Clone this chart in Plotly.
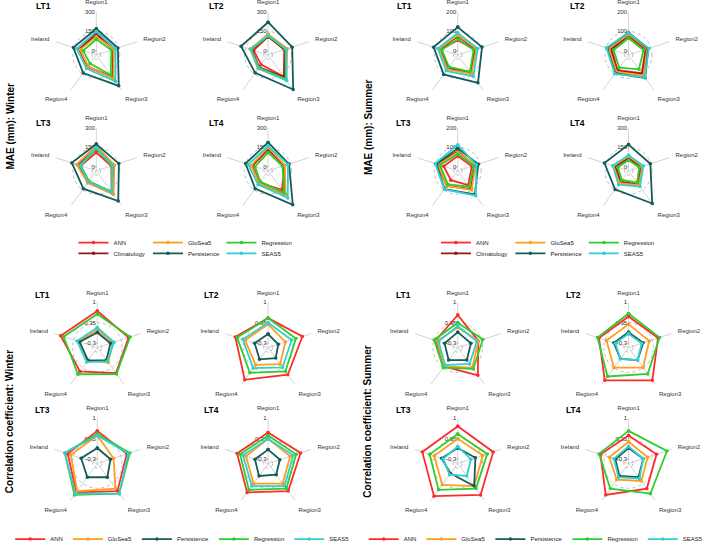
import plotly.graph_objects as go

W, H = 709, 554
FONT = "Liberation Sans, Arial, sans-serif"

regions = ["Region1", "Region2", "Region3", "Region4", "Ireland"]
lead_times = ["LT1", "LT2", "LT3", "LT4"]

# ---------------- MAE (mm): Winter  (per model: LT1..LT4, values Region1..Ireland)
mae_winter_ann = [[135, 110, 180, 80, 110], [110, 100, 175, 60, 85], [110, 90, 170, 70, 95], [130, 100, 150, 80, 95]]
mae_winter_clim = [[130, 105, 185, 78, 105], [110, 105, 180, 85, 100], [140, 110, 190, 80, 120], [140, 100, 195, 85, 100]]
mae_winter_glosea5 = [[110, 110, 195, 75, 100], [130, 125, 205, 100, 115], [165, 115, 195, 83, 128], [150, 105, 197, 85, 105]]
mae_winter_pers = [[172, 144, 265, 141, 155], [223, 165, 300, 139, 189], [176, 152, 258, 139, 168], [189, 139, 295, 139, 152]]
mae_winter_regr = [[90, 90, 160, 50, 75], [115, 110, 200, 90, 105], [140, 95, 170, 65, 95], [110, 85, 180, 70, 75]]
mae_winter_seas5 = [[150, 125, 221, 97, 128], [120, 115, 215, 95, 110], [150, 100, 175, 70, 100], [160, 130, 228, 100, 130]]

# ---------------- MAE (mm): Summer
mae_summer_ann = [[55, 70, 90, 60, 70], [75, 70, 95, 75, 70], [55, 55, 70, 38, 55], [65, 65, 95, 70, 70]]
mae_summer_clim = [[75, 75, 95, 65, 75], [80, 75, 100, 80, 75], [80, 70, 95, 75, 90], [70, 75, 100, 75, 80]]
mae_summer_glosea5 = [[80, 80, 100, 70, 80], [85, 80, 110, 85, 85], [75, 75, 101, 75, 85], [80, 80, 105, 85, 90]]
mae_summer_pers = [[123, 111, 157, 103, 110], [95, 85, 125, 95, 95], [95, 90, 130, 95, 95], [172, 146, 282, 146, 165]]
mae_summer_regr = [[60, 65, 85, 55, 65], [65, 60, 70, 60, 60], [65, 65, 80, 65, 75], [50, 55, 80, 55, 55]]
mae_summer_seas5 = [[92, 87, 116, 80, 87], [94, 89, 122, 99, 99], [113, 80, 138, 97, 101], [89, 89, 118, 100, 97]]

# ---------------- Correlation coefficient: Winter
cor_winter_ann = [[0.73, 0.61, 0.57, 0.50, 0.79], [0.50, 0.71, 0.63, 0.83, 0.66], [0.60, 0.55, 0.65, 0.70, 0.55], [0.55, 0.65, 0.65, 0.70, 0.60]]
cor_winter_glosea5 = [[0.12, 0.08, 0.15, 0.05, 0.18], [0.30, 0.14, 0.21, 0.24, 0.33], [0.45, 0.10, 0.55, 0.65, 0.45], [0.35, 0.30, 0.35, 0.35, 0.30]]
cor_winter_pers = [[0.04, 0.00, 0.05, 0.07, 0.15], [-0.01, -0.10, -0.03, 0.02, 0.01], [0.05, 0.00, 0.10, 0.10, 0.10], [0.00, -0.05, 0.00, 0.05, 0.00]]
cor_winter_regr = [[0.63, 0.66, 0.60, 0.61, 0.69], [0.50, 0.49, 0.50, 0.55, 0.60], [0.50, 0.65, 0.75, 0.80, 0.65], [0.45, 0.50, 0.55, 0.60, 0.50]]
cor_winter_seas5 = [[0.20, 0.12, 0.10, 0.13, 0.24], [0.35, 0.35, 0.34, 0.37, 0.41], [0.45, 0.60, 0.75, 0.75, 0.65], [0.35, 0.40, 0.45, 0.45, 0.40]]

# ---------------- Correlation coefficient: Summer
cor_summer_ann = [[0.60, 0.25, 0.65, 0.30, 0.30], [0.55, 0.55, 0.85, 0.85, 0.55], [0.75, 0.75, 0.80, 0.85, 0.75], [0.45, 0.50, 0.55, 0.80, 0.50]]
cor_summer_glosea5 = [[0.20, 0.25, 0.35, 0.30, 0.25], [0.30, 0.25, 0.35, 0.35, 0.30], [0.35, 0.40, 0.45, 0.40, 0.35], [0.25, 0.20, 0.25, 0.20, 0.20]]
cor_summer_pers = [[0.05, 0.00, 0.05, 0.05, 0.00], [0.05, 0.05, 0.05, 0.00, 0.05], [0.05, 0.15, 0.45, -0.05, 0.10], [0.05, 0.05, 0.10, 0.05, 0.00]]
cor_summer_regr = [[0.35, 0.40, 0.40, 0.35, 0.35], [0.65, 0.60, 0.60, 0.70, 0.60], [0.50, 0.55, 0.55, 0.60, 0.50], [0.60, 0.85, 0.75, 0.55, 0.55]]
cor_summer_seas5 = [[0.25, 0.20, 0.20, 0.25, 0.20], [0.00, 0.00, 0.05, 0.00, 0.00], [0.10, 0.00, 0.05, 0.00, 0.05], [0.10, 0.05, 0.15, 0.10, 0.05]]

# grid labels (min, mid, max) per lead time
mae_winter_grid = [(0, 150, 300), (0, 150, 300), (0, 150, 300), (0, 150, 300)]
mae_summer_grid = [(0, 100, 200), (0, 100, 200), (0, 100, 200), (0, 150, 300)]
cor_grid = [(-0.3, 0.35, 1), (-0.3, 0.35, 1), (-0.3, 0.35, 1), (-0.3, 0.35, 1)]

colors = {
    "ANN": "#FF2B2B",
    "Climatology": "#8E1B1B",
    "GloSea5": "#FF9D1E",
    "Persistence": "#175A5A",
    "Regression": "#2ECC2E",
    "SEAS5": "#33CFCF",
}

panels = [
    dict(title="MAE (mm): Winter", title_xy=(11, 128),
         series={"ANN": mae_winter_ann, "Climatology": mae_winter_clim, "GloSea5": mae_winter_glosea5,
                 "Persistence": mae_winter_pers, "Regression": mae_winter_regr, "SEAS5": mae_winter_seas5},
         grid=mae_winter_grid, R=43.5,
         centers=[(97, 56), (270, 56), (97, 174), (270, 174)],
         lt_xy=[(44, 6), (218, 6), (44, 125), (218, 125)],
         item_legends=[("ANN", 74, 247), ("GloSea5", 149, 247), ("Regression", 223, 247),
                       ("Climatology", 74, 258), ("Persistence", 149, 258), ("SEAS5", 223, 258)]),
    dict(title="MAE (mm): Summer", title_xy=(371, 129),
         series={"ANN": mae_summer_ann, "Climatology": mae_summer_clim, "GloSea5": mae_summer_glosea5,
                 "Persistence": mae_summer_pers, "Regression": mae_summer_regr, "SEAS5": mae_summer_seas5},
         grid=mae_summer_grid, R=43.5,
         centers=[(461, 56), (633, 56), (461, 174), (633, 174)],
         lt_xy=[(407, 6), (582, 6), (406, 125), (582, 125)],
         item_legends=[("ANN", 439, 247), ("GloSea5", 514, 247), ("Regression", 588, 247),
                       ("Climatology", 439, 258), ("Persistence", 514, 258), ("SEAS5", 588, 258)]),
    dict(title="Correlation coefficient: Winter", title_xy=(9, 429),
         series={"ANN": cor_winter_ann, "GloSea5": cor_winter_glosea5, "Persistence": cor_winter_pers,
                 "Regression": cor_winter_regr, "SEAS5": cor_winter_seas5},
         grid=cor_grid, R=46,
         centers=[(98, 354), (270, 354), (98, 472), (270, 472)],
         lt_xy=[(43, 300), (213, 300), (43, 418), (213, 418)],
         row_legend=(184, 549)),
    dict(title="Correlation coefficient: Summer", title_xy=(370, 429),
         series={"ANN": cor_summer_ann, "GloSea5": cor_summer_glosea5, "Persistence": cor_summer_pers,
                 "Regression": cor_summer_regr, "SEAS5": cor_summer_seas5},
         grid=cor_grid, R=46,
         centers=[(461, 354), (633, 354), (461, 472), (633, 472)],
         lt_xy=[(406, 300), (578, 300), (406, 418), (578, 418)],
         row_legend=(540, 549)),
]


def fmt(v):
    return ("%g" % v)


def legend_box(x, y, xanchor):
    return dict(x=x / W, y=1 - y / H, xanchor=xanchor, yanchor="middle",
                orientation="h", font=dict(size=6, family=FONT, color="#222"),
                bgcolor="rgba(0,0,0,0)", borderwidth=0, itemwidth=30,
                tracegroupgap=0, itemclick=False, itemdoubleclick=False)


fig = go.Figure()
annotations = []
layout_extra = {}
k = 0
nleg = 0
for p in panels:
    legend_of = {}
    if "item_legends" in p:
        for model, lx, ly in p["item_legends"]:
            nleg += 1
            lname = "legend" if nleg == 1 else "legend%d" % nleg
            legend_of[model] = lname
            layout_extra[lname] = legend_box(lx, ly, "left")
    else:
        nleg += 1
        lname = "legend" if nleg == 1 else "legend%d" % nleg
        for model in p["series"]:
            legend_of[model] = lname
        layout_extra[lname] = legend_box(p["row_legend"][0], p["row_legend"][1], "center")
    for i, lt in enumerate(lead_times):
        k += 1
        name = "polar" if k == 1 else "polar%d" % k
        cx, cy = p["centers"][i]
        R = p["R"]
        lo, mid, hi = p["grid"][i]
        rmin = lo - (hi - lo) / 9.0
        layout_extra[name] = dict(
            domain=dict(x=[(cx - R) / W, (cx + R) / W], y=[1 - (cy + R) / H, 1 - (cy - R) / H]),
            bgcolor="white",
            radialaxis=dict(range=[rmin, hi + (hi - lo) * 0.002], tickvals=[lo, mid, hi],
                            ticktext=[fmt(lo), fmt(mid), fmt(hi)], showline=False, ticks="",
                            angle=90, side="counterclockwise", tickangle=90,
                            tickfont=dict(size=6, family=FONT, color="#333"),
                            gridcolor="#BBBBBB", griddash="dot", gridwidth=0.8, layer="below traces"),
            angularaxis=dict(type="category", categoryarray=regions, direction="clockwise", rotation=90,
                             showline=False, ticks="outside", ticklen=5, tickcolor="rgba(0,0,0,0)",
                             gridcolor="#D3D3D3", gridwidth=1,
                             tickfont=dict(size=6, family=FONT, color="#333"), layer="below traces"),
        )
        for model, vals in p["series"].items():
            r = list(vals[i]) + [vals[i][0]]
            th = regions + [regions[0]]
            fig.add_trace(go.Scatterpolar(
                r=r, theta=th, subplot=name, mode="lines+markers", name=model,
                line=dict(color=colors[model], width=1.8), marker=dict(color=colors[model], size=3.5),
                legend=legend_of[model], showlegend=(i == 0), hoverinfo="skip",
            ))
        lx, ly = p["lt_xy"][i]
        annotations.append(dict(x=lx / W, y=1 - ly / H, xref="paper", yref="paper", text="<b>%s</b>" % lt,
                                showarrow=False, font=dict(size=8.5, family=FONT, color="black"),
                                xanchor="center", yanchor="middle"))
    tx, ty = p["title_xy"]
    annotations.append(dict(x=tx / W, y=1 - ty / H, xref="paper", yref="paper", text="<b>%s</b>" % p["title"],
                            showarrow=False, textangle=-90, font=dict(size=10, family=FONT, color="black"),
                            xanchor="center", yanchor="middle"))

fig.update_layout(
    width=W, height=H, margin=dict(l=0, r=0, t=0, b=0),
    paper_bgcolor="white", plot_bgcolor="white",
    font=dict(family=FONT, size=6, color="#333"),
    annotations=annotations, **layout_extra,
)
fig.write_html("out.html", config={"displayModeBar": False},
               post_script="document.body.style.margin='0px';")
